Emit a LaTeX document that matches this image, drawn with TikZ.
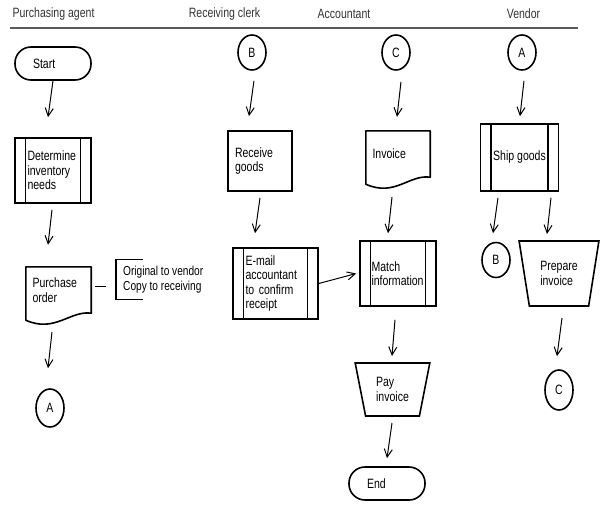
\documentclass[tikz,border=0pt]{standalone}
\usepackage{fontspec}
\setmainfont{Liberation Sans}[FakeStretch=0.78]
\usetikzlibrary{arrows.meta,shapes.geometric}

\tikzset{
  term/.style={draw, line width=1.6pt, rounded corners=16pt, minimum width=76pt, minimum height=33pt,
    inner xsep=18pt, text width=40pt, align=left},
  proc/.style={draw, line width=1.6pt, inner xsep=7pt, align=left},
  predef/.style={proc, inner xsep=12.5pt, path picture={
    \draw[line width=1.6pt] ([xshift=10.5pt]path picture bounding box.north west) -- ([xshift=10.5pt]path picture bounding box.south west)
      ([xshift=-10.5pt]path picture bounding box.north east) -- ([xshift=-10.5pt]path picture bounding box.south east);}},
  doc/.style={inner xsep=6.5pt, align=left},
  manual/.style={draw, line width=1.6pt, trapezium, shape border rotate=180, trapezium angle=76,
    trapezium stretches=true, align=left},
  conn/.style={draw, line width=1.6pt, ellipse, minimum width=28pt, inner sep=0pt},
  note/.style={inner xsep=7pt, align=left, minimum height=39pt, font=\fontsize{13}{14.5}\selectfont},
  flow/.style={-{Straight Barb[length=8pt,width=8pt]}, line width=1pt}
}

\begin{document}
\begin{tikzpicture}[x=1pt,y=-1pt, every node/.style={font=\fontsize{13.5}{14.5}\selectfont}]

\useasboundingbox (0,0) rectangle (608,509);

\node[anchor=west, text=black!80] (h1) at (9,14) {Purchasing agent};
\node[text=black!80] (h2) at (224.5,14) {Receiving clerk};
\node[text=black!80] (h3) at (344,14) {Accountant};
\node[text=black!80] (h4) at (523.5,14) {Vendor};
\draw[gray!70!black, line width=2pt] (10,28) -- (578,28);

\node[term] (start) at (53,63.5) {Start};
\node[predef, minimum width=76pt, minimum height=65pt, text width=51pt] (det) at (53,170.5) {Determine\\inventory\\needs};
\node[doc, minimum width=65pt, minimum height=46pt, text width=52pt] (po) at (58.5,290) {Purchase\\order};
\node[note, anchor=west] (note) at (116,279.5) {Original to vendor\\Copy to receiving};
\node[conn, minimum height=38pt] (a1) at (50,408) {A};

\node[conn, minimum height=35pt] (b1) at (252,52.5) {B};
\node[proc, minimum width=64pt, minimum height=60pt, text width=50pt] (recv) at (260,161) {Receive\\goods};
\node[predef, minimum width=85pt, minimum height=71pt, text width=60pt] (email) at (275.5,283.5) {E-mail\\accountant\\to confirm\\receipt};

\node[conn, minimum height=35pt] (c1) at (396,52.5) {C};
\node[doc, minimum width=64pt, minimum height=46pt, text width=51pt] (inv) at (398,154) {Invoice};
\node[predef, minimum width=76pt, minimum height=65pt, inner xsep=11.5pt, text width=53pt] (match) at (398,273.5) {Match\\information};
\node[manual, minimum width=75pt, minimum height=53pt] (pay) at (392.5,389.5) {Pay\\invoice};
\node[term] (end) at (387,483.5) {End};

\node[conn, minimum height=35pt] (a2) at (522,52.5) {A};
\node[predef, minimum width=75pt, minimum height=67pt] (ship) at (519.5,157.5) {Ship goods};
\node[conn, minimum height=35pt] (b2) at (496,260) {B};
\node[manual, minimum width=80pt, minimum height=65pt] (prep) at (559,273.5) {Prepare\\invoice};
\node[conn, minimum height=40pt] (c2) at (559,390) {C};

\foreach \d in {po,inv}
  \draw[line width=1.6pt, line join=round] (\d.south east) -- (\d.north east) -- (\d.north west)
    -- ([shift={(0,7)}]\d.south west) .. controls ([shift={(29,20)}]\d.south west) and ([shift={(-21,-3)}]\d.south east) .. (\d.south east) -- cycle;

\draw[line width=1.3pt] ([xshift=27pt]note.north west) -- (note.north west) -- (note.south west) -- ([xshift=27pt]note.south west);
\draw[line width=1pt] ([shift={(4,-4)}]po.east) -- ([shift={(-10,6.5)}]note.west);

\draw[flow] (start.south) -- ([shift={(-5,-20)}]det.north);
\draw[flow] ([shift={(-1,6)}]det.south) -- ([shift={(-10.5,-22)}]po.north);
\draw[flow] ([shift={(-6.5,19)}]po.south) -- ([shift={(-2,-20)}]a1.north);

\draw[flow] ([shift={(2,10)}]b1.south) -- ([shift={(-11,-14)}]recv.north);
\draw[flow] ([shift={(0,6)}]recv.south) -- ([shift={(-20.5,-14)}]email.north);
\draw[flow] (email.east) -- ([xshift=-3pt]match.west);

\draw[flow] ([shift={(5,11)}]c1.south) -- ([shift={(-1,-14)}]inv.north);
\draw[flow] ([shift={(-6,20)}]inv.south) -- ([shift={(-10,-7)}]match.north);
\draw[flow] ([shift={(-3,13)}]match.south) -- ([shift={(-0.5,-33.5)}]pay.center);
\draw[flow] ([shift={(-0.5,33.5)}]pay.center) -- ([shift={(0,-8)}]end.north);

\draw[flow] ([shift={(2,10)}]a2.south) -- ([shift={(0.5,-7)}]ship.north);
\draw[flow] ([shift={(-21.5,6)}]ship.south) -- ([shift={(-3,-8.5)}]b2.north);
\draw[flow] ([shift={(31.5,6)}]ship.south) -- ([shift={(-12,-39.5)}]prep.center);
\draw[flow] ([shift={(3,44.5)}]prep.center) -- ([shift={(-2,-13)}]c2.north);

\end{tikzpicture}
\end{document}
